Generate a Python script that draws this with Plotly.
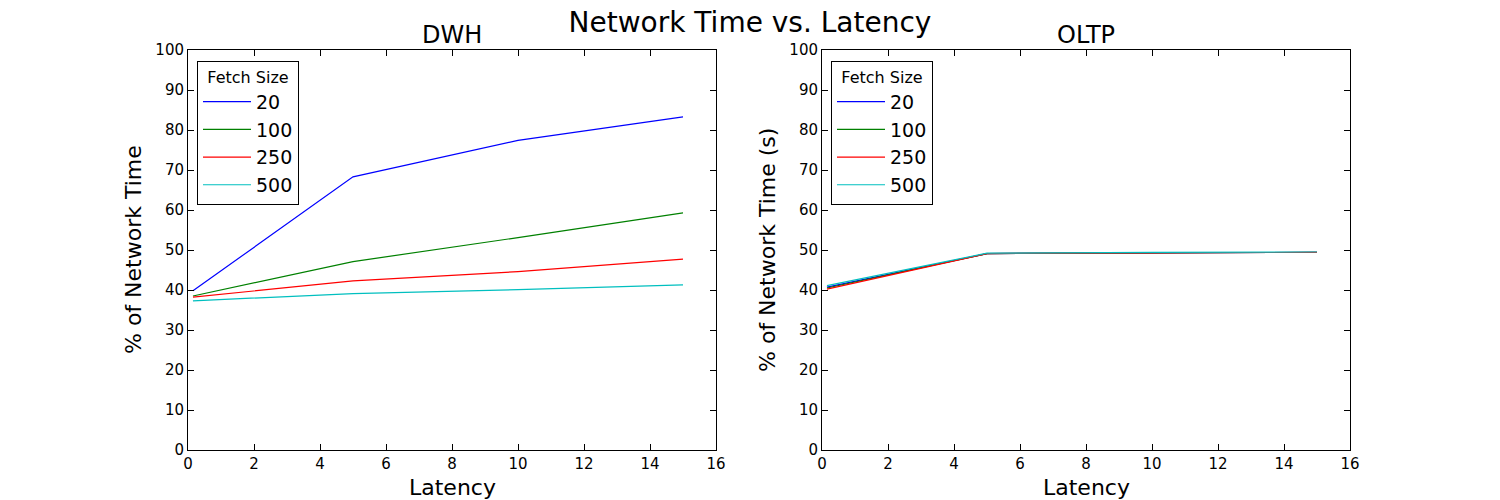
import plotly.graph_objects as go

# Latency values (x) shared by both panels
latency = [0.15, 5, 10, 15]
fetch_sizes = ["20", "100", "250", "500"]
colors = ["#0000ff", "#008000", "#ff0000", "#00bfbf"]

# % of network time, DWH workload
dwh_20 = [39.8, 68.3, 77.4, 83.3]
dwh_100 = [38.5, 47.1, 53.1, 59.3]
dwh_250 = [38.2, 42.3, 44.6, 47.7]
dwh_500 = [37.3, 39.1, 40.1, 41.3]

# % of network time, OLTP workload
oltp_20 = [40.7, 49.1, 49.3, 49.4]
oltp_100 = [40.5, 49.1, 49.3, 49.4]
oltp_250 = [40.2, 49.1, 49.3, 49.4]
oltp_500 = [41.1, 49.2, 49.4, 49.5]

dwh_series = [dwh_20, dwh_100, dwh_250, dwh_500]
oltp_series = [oltp_20, oltp_100, oltp_250, oltp_500]

W, H = 1500, 500
OFF = 8  # page body margin
font = "DejaVu Sans"


def px(x):
    return (x - OFF) / W


def py(y):
    return 1 - (y - OFF) / H


fig = go.Figure()

for name, ys, c in zip(fetch_sizes, dwh_series, colors):
    fig.add_trace(go.Scatter(x=latency, y=ys, mode="lines", name=name,
                             line=dict(color=c, width=1.2),
                             xaxis="x", yaxis="y", legend="legend"))
for name, ys, c in zip(fetch_sizes, oltp_series, colors):
    fig.add_trace(go.Scatter(x=latency, y=ys, mode="lines", name=name,
                             line=dict(color=c, width=1.2),
                             xaxis="x2", yaxis="y2", legend="legend2"))

axis_style = dict(
    showgrid=False, zeroline=False, showline=True, linecolor="black",
    linewidth=1, mirror="ticks", ticks="inside", ticklen=6, tickcolor="black",
    automargin=False,
    tickfont=dict(family=font, size=15, color="black"),
)

# plot areas in reference pixels: left 188-716, right 822-1350, y 50-450
ydom = [py(450), py(50)]

legend_style = dict(
    bgcolor="white", bordercolor="black", borderwidth=1,
    font=dict(family=font, size=19, color="black"),
    title=dict(text="Fetch Size", side="top center",
               font=dict(family=font, size=16, color="black")),
    xanchor="left", yanchor="top", y=py(61),
    tracegroupgap=0, itemwidth=48,
)

fig.update_layout(
    width=W, height=H,
    margin=dict(l=0, r=0, t=0, b=0),
    plot_bgcolor="white", paper_bgcolor="white",
    font=dict(family=font, color="black"),
    xaxis=dict(domain=[px(188), px(716)], range=[0, 16], dtick=2, **axis_style),
    yaxis=dict(domain=ydom, range=[0, 100], dtick=10, **axis_style),
    xaxis2=dict(domain=[px(822), px(1350)], range=[0, 16], dtick=2,
                anchor="y2", **axis_style),
    yaxis2=dict(domain=ydom, range=[0, 100], dtick=10, anchor="x2", **axis_style),
    legend=dict(x=px(197), **legend_style),
    legend2=dict(x=px(831), **legend_style),
    title=dict(text="Network Time vs. Latency", x=px(750), xanchor="center",
               y=py(22), yanchor="middle",
               font=dict(family=font, size=28, color="black")),
)

annots = [
    ("DWH", px(452), py(35), 24, 0),
    ("OLTP", px(1086), py(35), 24, 0),
    ("Latency", px(452), py(487), 22, 0),
    ("Latency", px(1086), py(487), 22, 0),
    ("% of Network Time", px(133), py(250), 22, -90),
    ("% of Network Time (s)", px(767), py(250), 22, -90),
]
for text, x, y, size, angle in annots:
    fig.add_annotation(text=text, x=x, y=y, xref="paper", yref="paper",
                       xanchor="center", yanchor="middle", showarrow=False,
                       textangle=angle,
                       font=dict(family=font, size=size, color="black"))

fig.write_html("out.html")
